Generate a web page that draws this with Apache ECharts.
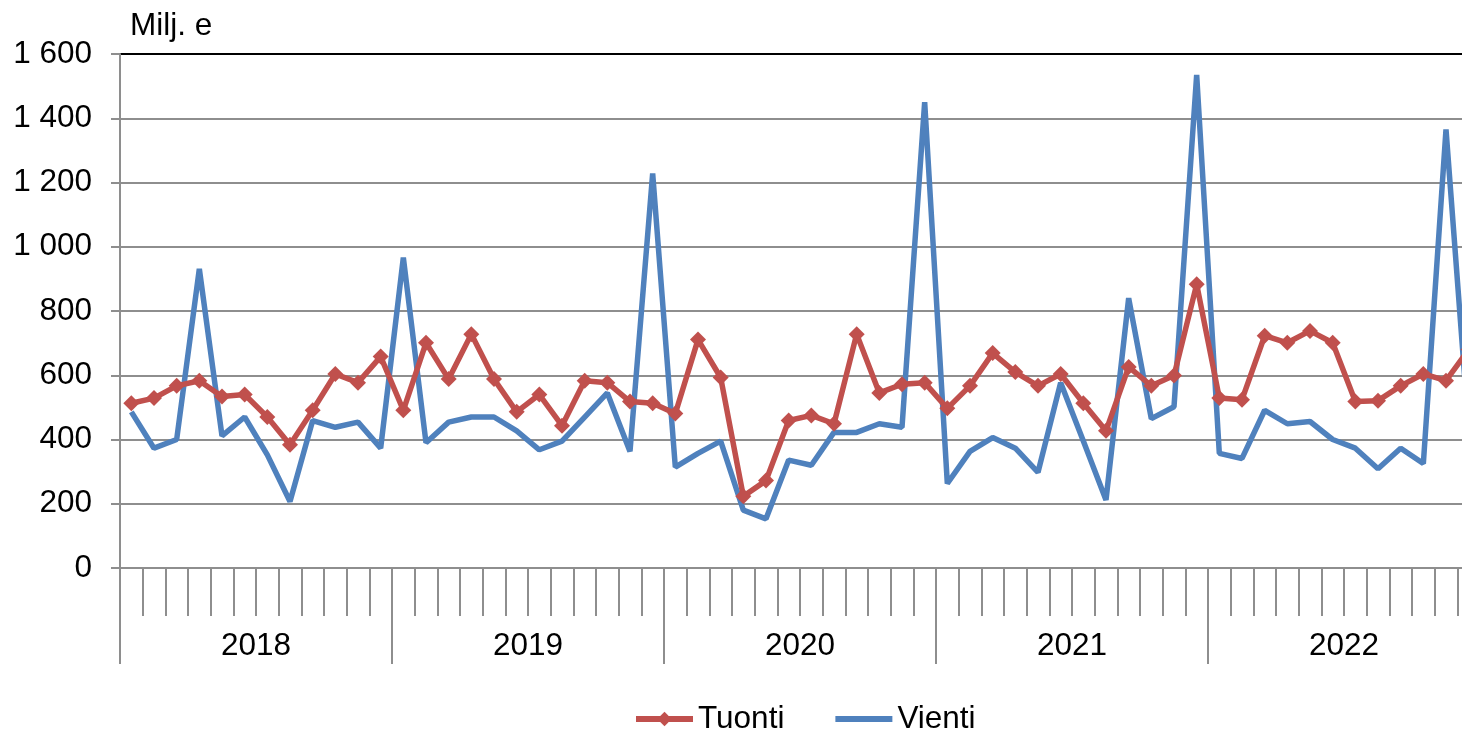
<!DOCTYPE html>
<html>
<head>
<meta charset="utf-8">
<script src="https://cdn.jsdelivr.net/npm/echarts@6/dist/echarts.min.js"></script>
<style>
  html, body { margin: 0; padding: 0; background: #fff; overflow: hidden; }
  /* the original plot runs past the right edge of the picture, so the chart is a bit wider than the window */
  #chart { width: 1480px; height: 734px; }
</style>
</head>
<body>
<div id="chart"></div>
<script>
const YEARS = ['2018', '2019', '2020', '2021', '2022'];
const MONTHS = YEARS.flatMap(y => Array.from({ length: 12 }, (_, i) => `${y}-${String(i + 1).padStart(2, '0')}`));

const TUONTI = [
  513, 529, 567, 583, 534, 540, 470, 384, 491, 604, 577, 658,
  491, 701, 588, 728, 588, 486, 540, 443, 583, 577, 518, 513,
  481, 711, 593, 223, 272, 459, 475, 449, 728, 545, 572, 577,
  497, 567, 669, 610, 567, 604, 513, 427, 626, 567, 599, 883,
  529, 524, 723, 701, 738, 701, 518, 521, 567, 604, 583, 680,
];
const VIENTI = [
  486, 373, 400, 931, 411, 470, 352, 207, 459, 438, 454, 373,
  966, 390, 454, 470, 470, 427, 368, 395, 470, 545, 363, 1228,
  314, 357, 395, 180, 153, 336, 320, 422, 422, 449, 438, 1450,
  263, 363, 406, 373, 298, 577, 395, 212, 840, 465, 502, 1535,
  357, 341, 491, 449, 456, 400, 373, 309, 373, 325, 1365, 430,
];

const RED = '#C0504D';
const BLUE = '#4F81BD';
const GRID_GREY = '#8e8e8e';
const FONT = 'Liberation Sans, Arial, sans-serif';
const FS = 31.5;

const chart = echarts.init(document.getElementById('chart'), null, { renderer: 'canvas' });

// thousands with a space: 1 600
const fmt = v => String(v).replace(/\B(?=(\d{3})+(?!\d))/g, ' ');

chart.setOption({
  animation: false,
  backgroundColor: '#fff',
  textStyle: { fontFamily: FONT },
  title: {
    text: 'Milj. e',
    left: 125, top: 5,
    textStyle: { fontSize: FS, fontWeight: 'normal', color: '#000', fontFamily: FONT },
  },
  legend: {
    left: 633, top: 703, padding: 0,
    itemWidth: 57, itemHeight: 18, itemGap: 48,
    lineStyle: { width: 6 },
    textStyle: { fontSize: FS, color: '#000', fontFamily: FONT },
    data: ['Tuonti', { name: 'Vienti', itemStyle: { opacity: 0 } }],
  },
  grid: { left: 120, right: 0, top: 54, bottom: 166 },
  xAxis: [
    {
      type: 'category',
      data: MONTHS,
      boundaryGap: true,
      axisLine: { show: true, lineStyle: { color: GRID_GREY, width: 2 } },
      axisTick: { show: true, interval: 0, length: 48, lineStyle: { color: GRID_GREY, width: 2 } },
      axisLabel: { show: false },
      splitLine: { show: false },
    },
    {
      type: 'category',
      data: YEARS,
      boundaryGap: true,
      position: 'bottom',
      axisLine: { show: false },
      axisTick: { show: true, interval: 0, length: 96, lineStyle: { color: GRID_GREY, width: 2 } },
      axisLabel: { show: true, interval: 0, margin: 62, fontSize: FS, color: '#000', fontFamily: FONT },
      splitLine: { show: false },
    },
  ],
  yAxis: {
    type: 'value',
    min: 0, max: 1600, interval: 200,
    axisLine: { show: true, lineStyle: { color: GRID_GREY, width: 2 } },
    axisTick: { show: true, length: 9, lineStyle: { color: GRID_GREY, width: 2 } },
    axisLabel: { margin: 28, fontSize: FS, color: '#000', fontFamily: FONT, formatter: fmt },
    splitLine: {
      lineStyle: {
        color: [GRID_GREY, GRID_GREY, GRID_GREY, GRID_GREY, GRID_GREY, GRID_GREY, GRID_GREY, GRID_GREY, '#000'],
        width: 2,
      },
    },
  },
  series: [
    {
      name: 'Tuonti',
      type: 'line',
      data: TUONTI,
      symbol: 'diamond', symbolSize: 16,
      showSymbol: true, showAllSymbol: true,
      lineStyle: { color: RED, width: 5.5 },
      itemStyle: { color: RED },
      z: 3,
    },
    {
      name: 'Vienti',
      type: 'line',
      data: VIENTI,
      symbol: 'none',
      lineStyle: { color: BLUE, width: 5.5 },
      itemStyle: { color: BLUE },
      z: 2,
    },
  ],
});
</script>
</body>
</html>
